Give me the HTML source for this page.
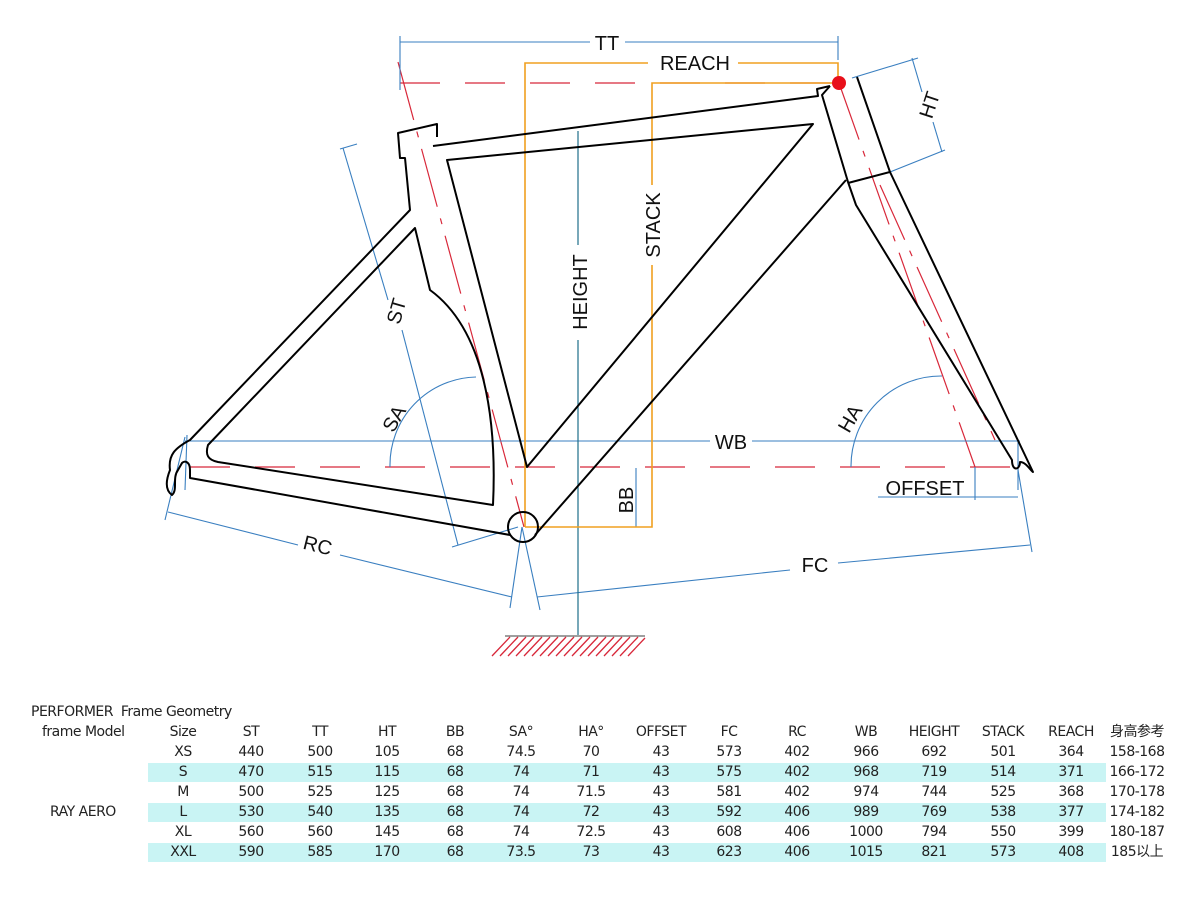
<!DOCTYPE html>
<html><head><meta charset="utf-8"><style>
body{margin:0;background:#fff;width:1200px;height:900px;overflow:hidden;font-family:"Liberation Sans","Noto Sans CJK SC",sans-serif}
svg{position:absolute;left:0;top:0}
.t{position:absolute;font-size:14px;line-height:17px;color:#222;font-family:"DejaVu Sans","Noto Sans CJK SC",sans-serif;letter-spacing:-0.5px}
.band{position:absolute;left:148px;width:958px;height:19px;background:#c9f4f4}
</style></head><body>
<svg width="1200" height="690" viewBox="0 0 1200 690" font-family="Liberation Sans, sans-serif">
<g stroke="#d8283a" stroke-width="1.2" fill="none">
<line x1="400" y1="83" x2="838" y2="83" stroke-dasharray="40,25"/>
<line x1="190" y1="467" x2="1020" y2="467" stroke-dasharray="40,25"/>
<line x1="398" y1="62" x2="524" y2="527" stroke-dasharray="60,12,6,12"/>
<line x1="839" y1="83" x2="975" y2="467" stroke-dasharray="60,12,6,12"/>
<line x1="880" y1="185" x2="995" y2="440" stroke-dasharray="60,12,6,12"/>
</g>
<g stroke="#3a7fc0" stroke-width="1.1" fill="none">
<line x1="400" y1="42" x2="590" y2="42"/><line x1="625" y1="42" x2="838" y2="42"/>
<line x1="400" y1="36" x2="400" y2="90"/><line x1="838" y1="36" x2="838" y2="60"/>
<line x1="185" y1="441" x2="710" y2="441"/><line x1="752" y1="441" x2="1020" y2="441"/>
<line x1="187" y1="435" x2="185" y2="490"/><line x1="1018" y1="441" x2="1018" y2="490"/>
<line x1="343" y1="148" x2="388" y2="300"/><line x1="402" y1="330" x2="458" y2="545"/>
<line x1="340" y1="149" x2="357" y2="144"/><line x1="452" y1="547" x2="518" y2="527"/>
<line x1="168" y1="512" x2="298" y2="545"/><line x1="340" y1="555" x2="512" y2="597"/>
<line x1="185" y1="437" x2="165" y2="520"/>
<line x1="522" y1="527" x2="510" y2="608"/><line x1="522" y1="527" x2="540" y2="610"/>
<line x1="537" y1="597" x2="790" y2="570"/><line x1="838" y1="563" x2="1030" y2="545"/>
<line x1="1018" y1="470" x2="1032" y2="552"/>
<line x1="852" y1="78" x2="918" y2="58"/><line x1="890" y1="172" x2="945" y2="150"/>
<line x1="912" y1="58" x2="922" y2="92"/><line x1="933" y1="122" x2="942" y2="152"/>
<line x1="878" y1="497" x2="1018" y2="497"/><line x1="975" y1="467" x2="975" y2="500"/>
<line x1="636" y1="468" x2="636" y2="527"/>
<path d="M390,467 A88,88 0 0 1 476,377"/>
<path d="M851,467 A90,90 0 0 1 942,376"/>
</g>
<line x1="578" y1="131" x2="578" y2="245" stroke="#1d6e8a" stroke-width="1.2"/>
<line x1="578" y1="340" x2="578" y2="635" stroke="#1d6e8a" stroke-width="1.2"/>
<g stroke="#f0a020" stroke-width="1.6" fill="none">
<path d="M525,527 V63 H648"/><path d="M738,63 H838 V83"/>
<path d="M838,83 H652 V185"/><path d="M652,265 V527 H525"/>
</g>
<g stroke="#d8283a" stroke-width="1.3">
<line x1="505" y1="636" x2="645" y2="636" stroke="#666"/>
<path d="M492,656 L510,637 M500,656 L518,637 M508,656 L526,637 M516,656 L534,637 M524,656 L542,637 M532,656 L550,637 M540,656 L558,637 M548,656 L566,637 M556,656 L574,637 M564,656 L582,637 M572,656 L590,637 M580,656 L598,637 M588,656 L606,637 M596,656 L614,637 M604,656 L622,637 M612,656 L630,637 M620,656 L638,637 M628,656 L645,638"/>
</g>
<g stroke="#000" stroke-width="2" fill="none" stroke-linejoin="round">
<path d="M447,160 L813,124 L527,467 Z"/>
<path d="M433,146 L818,96 L817,89 L830,86"/>
<path d="M437,137 L437,124 L398,133 L400,158 L405,158 L410,210 L190,440 C175,448 168,455 170,470 C166,480 165,490 172,495 C178,490 172,478 178,470 L182,463 C185,460 190,462 190,470 L190,478 L510,535"/>
<path d="M415,228 L208,445 C205,455 208,460 218,462 L493,505 C497,420 485,330 430,290 Z"/>
<path d="M535,535 L846,180"/>
<path d="M830,86 L822,95 L848,182 L856,205 L1012,460 C1012,472 1020,470 1020,462 C1026,462 1030,470 1033,472 L890,172 L857,77"/>
<path d="M848,183 L890,172"/>
<circle cx="523" cy="527" r="15"/>
</g>
<circle cx="839" cy="83" r="7" fill="#e8101a"/>
<g font-size="20" fill="#111">
<text x="607" y="50" text-anchor="middle">TT</text>
<text x="695" y="70" text-anchor="middle">REACH</text>
<text x="731" y="449" text-anchor="middle">WB</text>
<text x="925" y="495" text-anchor="middle">OFFSET</text>
<text x="815" y="572" text-anchor="middle">FC</text>
<text transform="translate(316,552) rotate(14)" text-anchor="middle">RC</text>
<text transform="translate(403,313) rotate(-74)" text-anchor="middle">ST</text>
<text transform="translate(587,292) rotate(-90)" text-anchor="middle">HEIGHT</text>
<text transform="translate(660,225) rotate(-90)" text-anchor="middle">STACK</text>
<text transform="translate(633,500) rotate(-90)" text-anchor="middle">BB</text>
<text transform="translate(400,422) rotate(-60)" text-anchor="middle">SA</text>
<text transform="translate(856,422) rotate(-60)" text-anchor="middle">HA</text>
<text transform="translate(936,107) rotate(-72)" text-anchor="middle">HT</text>
</g>
</svg>
<div class="band" style="top:763px"></div>
<div class="band" style="top:803px"></div>
<div class="band" style="top:843px"></div>
<div class="t" style="left:31px;top:704px">PERFORMER&nbsp; Frame Geometry</div>
<div class="t" style="left:42px;top:724px">frame Model</div>
<div class="t" style="left:50px;top:804px">RAY AERO</div>
<div id="tb"></div>
<script>
const cols=[183,251,320,387,455,521,591,661,729,797,866,934,1003,1071,1137];
const rows=[["Size","ST","TT","HT","BB","SA°","HA°","OFFSET","FC","RC","WB","HEIGHT","STACK","REACH","身高参考"],
["XS",440,500,105,68,74.5,70,43,573,402,966,692,501,364,"158-168"],
["S",470,515,115,68,74,71,43,575,402,968,719,514,371,"166-172"],
["M",500,525,125,68,74,71.5,43,581,402,974,744,525,368,"170-178"],
["L",530,540,135,68,74,72,43,592,406,989,769,538,377,"174-182"],
["XL",560,560,145,68,74,72.5,43,608,406,1000,794,550,399,"180-187"],
["XXL",590,585,170,68,73.5,73,43,623,406,1015,821,573,408,"185以上"]];
let h="";rows.forEach((r,i)=>r.forEach((v,j)=>{h+=`<div class="t" style="left:${cols[j]-40}px;width:80px;text-align:center;top:${724+i*20}px">${v}</div>`}));
document.getElementById("tb").innerHTML=h;
</script>
</body></html>
